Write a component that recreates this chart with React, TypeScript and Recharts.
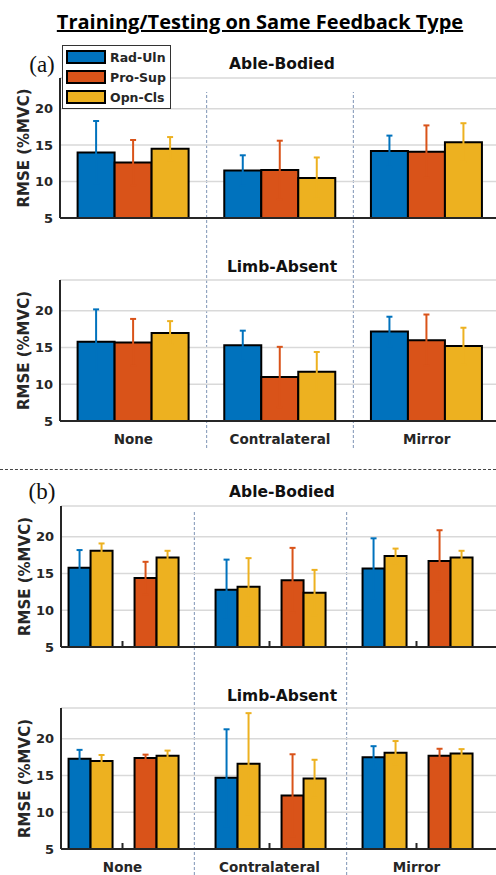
import {
  BarChart,
  Bar,
  XAxis,
  YAxis,
  CartesianGrid,
  ErrorBar,
  Legend,
  ReferenceLine,
} from "recharts";

const categories = ["None", "Contralateral", "Mirror"];
const movements = ["Rad-Uln", "Pro-Sup", "Opn-Cls"];
const movementColors = ["#0072BD", "#D95319", "#EDB120"];
const rmseTicks = [5, 10, 15, 20];

// (a) RMSE mean and SD per feedback type
const aAbleRadUln = [14.0, 11.5, 14.2];
const aAbleRadUlnSd = [4.3, 2.1, 2.1];
const aAbleProSup = [12.6, 11.6, 14.1];
const aAbleProSupSd = [3.1, 4.0, 3.6];
const aAbleOpnCls = [14.5, 10.5, 15.4];
const aAbleOpnClsSd = [1.6, 2.8, 2.6];

const aAbsentRadUln = [15.8, 15.3, 17.2];
const aAbsentRadUlnSd = [4.4, 2.0, 2.0];
const aAbsentProSup = [15.7, 11.0, 16.0];
const aAbsentProSupSd = [3.2, 4.1, 3.5];
const aAbsentOpnCls = [17.0, 11.7, 15.2];
const aAbsentOpnClsSd = [1.6, 2.7, 2.5];

// (b) Rad-Uln paired with Opn-Cls, Pro-Sup paired with Opn-Cls
const bAbleRadUln = [15.8, 12.8, 15.7];
const bAbleRadUlnSd = [2.4, 4.1, 4.1];
const bAbleOpnWithRad = [18.1, 13.2, 17.4];
const bAbleOpnWithRadSd = [1.0, 3.9, 1.0];
const bAbleProSup = [14.4, 14.1, 16.7];
const bAbleProSupSd = [2.2, 4.4, 4.2];
const bAbleOpnWithPro = [17.2, 12.4, 17.2];
const bAbleOpnWithProSd = [0.9, 3.1, 0.9];

const bAbsentRadUln = [17.3, 14.7, 17.5];
const bAbsentRadUlnSd = [1.2, 6.6, 1.5];
const bAbsentOpnWithRad = [17.0, 16.6, 18.1];
const bAbsentOpnWithRadSd = [0.8, 6.9, 1.6];
const bAbsentProSup = [17.4, 12.3, 17.7];
const bAbsentProSupSd = [0.45, 5.6, 0.95];
const bAbsentOpnWithPro = [17.7, 14.6, 18.0];
const bAbsentOpnWithProSd = [0.7, 2.55, 0.6];

const FONT = "'DejaVu Sans', sans-serif";
const INK = "#262626";

const tripleRows = (rad, radSd, pro, proSd, opn, opnSd) =>
  categories.map((name, i) => ({
    name,
    rad: rad[i],
    radSd: radSd[i],
    pro: pro[i],
    proSd: proSd[i],
    opn: opn[i],
    opnSd: opnSd[i],
  }));

const pairRows = (rad, radSd, opnR, opnRSd, pro, proSd, opnP, opnPSd) =>
  categories.map((name, i) => ({
    name,
    rad: rad[i],
    radSd: radSd[i],
    opnR: opnR[i],
    opnRSd: opnRSd[i],
    gap: null,
    pro: pro[i],
    proSd: proSd[i],
    opnP: opnP[i],
    opnPSd: opnPSd[i],
  }));

const tripleSeries = [
  { key: "rad", sd: "radSd", name: movements[0], color: movementColors[0] },
  { key: "pro", sd: "proSd", name: movements[1], color: movementColors[1] },
  { key: "opn", sd: "opnSd", name: movements[2], color: movementColors[2] },
];

// empty slot between the two pairs of each group
const pairSeries = [
  { key: "rad", sd: "radSd", name: movements[0], color: movementColors[0] },
  { key: "opnR", sd: "opnRSd", name: movements[2], color: movementColors[2] },
  { key: "gap", sd: null, name: "", color: "none" },
  { key: "pro", sd: "proSd", name: movements[1], color: movementColors[1] },
  { key: "opnP", sd: "opnPSd", name: movements[2], color: movementColors[2] },
];

const colorOf = Object.fromEntries(movements.map((m, i) => [m, movementColors[i]]));

const CategoryTick = (props: any) => {
  const { x, y, payload, showLabel, inward } = props;
  return (
    <g>
      {inward && (
        <line x1={x} x2={x} y1={y} y2={y - 6} stroke={INK} strokeWidth={2} />
      )}
      {showLabel && (
        <text
          x={x}
          y={y + 23}
          textAnchor="middle"
          fill={INK}
          fontFamily={FONT}
          fontWeight={700}
          fontSize={13.5}
        >
          {payload.value}
        </text>
      )}
    </g>
  );
};

const YTitle = (props: any) => {
  const { viewBox } = props;
  const cx = viewBox.x + 24;
  const cy = viewBox.y + viewBox.height / 2;
  return (
    <text
      x={cx}
      y={cy}
      transform={`rotate(-90, ${cx}, ${cy})`}
      textAnchor="middle"
      dominantBaseline="central"
      fill={INK}
      fontFamily={FONT}
      fontWeight={700}
      fontSize={15}
    >
      RMSE (%MVC)
    </text>
  );
};

const BoxLegend = ({ payload }: any) => {
  const items = [...(payload || [])].sort(
    (a: any, b: any) => movements.indexOf(a.value) - movements.indexOf(b.value)
  );
  return (
    <div
      style={{
        border: "1.5px solid #333",
        background: "#fff",
        padding: "1px 3px 1px 3px",
        boxSizing: "border-box",
        width: 109,
      }}
    >
      {items.map((p: any) => (
        <div key={p.value} style={{ display: "flex", alignItems: "center", height: 20 }}>
          <span
            style={{
              display: "inline-block",
              boxSizing: "border-box",
              width: 40,
              height: 14,
              border: "2px solid #000",
              background: colorOf[p.value],
              marginRight: 4,
            }}
          />
          <span style={{ fontFamily: FONT, fontWeight: 700, fontSize: 12.5, color: INK }}>
            {p.value}
          </span>
        </div>
      ))}
    </div>
  );
};

type PanelProps = {
  top: number;
  height: number;
  marginTop: number;
  xAxisHeight: number;
  left: number;
  padding: { left: number; right: number };
  gap: string;
  data: any[];
  series: typeof tripleSeries;
  showLabels?: boolean;
  inward?: boolean;
  legend?: boolean;
};

const Panel = (p: PanelProps) => (
  <div style={{ position: "absolute", left: 0, top: p.top }}>
    <BarChart
      width={500}
      height={p.height}
      data={p.data}
      margin={{ top: p.marginTop, right: 0, bottom: 0, left: p.left }}
      barCategoryGap={p.gap}
      barGap={0}
    >
      <CartesianGrid vertical={false} stroke="#d9d9d9" strokeWidth={1.5} />
      <XAxis
        dataKey="name"
        height={p.xAxisHeight}
        padding={p.padding}
        interval={0}
        axisLine={{ stroke: INK, strokeWidth: 2 }}
        tickLine={false}
        tickSize={0}
        tickMargin={0}
        tick={<CategoryTick showLabel={p.showLabels} inward={p.inward} />}
      />
      <YAxis
        domain={[5, 24.2]}
        ticks={rmseTicks}
        allowDataOverflow
        width={60}
        axisLine={{ stroke: INK, strokeWidth: 2 }}
        tickLine={false}
        tickSize={0}
        tickMargin={7}
        tick={{ fill: INK, fontFamily: FONT, fontWeight: 700, fontSize: 13 }}
        label={<YTitle />}
      />
      {p.series.map((s) => (
        <Bar
          key={s.key}
          dataKey={s.key}
          name={s.name}
          fill={s.color}
          stroke={s.sd ? "#000" : "none"}
          strokeWidth={2}
          legendType={s.sd ? "rect" : "none"}
          isAnimationActive={false}
        >
          {s.sd && (
            <ErrorBar
              dataKey={s.sd}
              width={3}
              strokeWidth={2}
              stroke={s.color}
              isAnimationActive={false}
            />
          )}
        </Bar>
      ))}
      {p.legend && (
        <Legend
          layout="vertical"
          align="center"
          verticalAlign="middle"
          wrapperStyle={{ left: 62, top: 5, width: 109 }}
          content={(props: any) => <BoxLegend payload={props.payload} />}
        />
      )}
    </BarChart>
  </div>
);

// dashed separators between feedback types, running through both subplots
const Dividers = ({ top, height, left, padding }: any) => (
  <div style={{ position: "absolute", left: 0, top }}>
    <BarChart
      width={500}
      height={height}
      data={categories.map((name) => ({ name, level: 0 }))}
      margin={{ top: 0, right: 0, bottom: 0, left }}
    >
      <XAxis
        dataKey="name"
        height={0}
        padding={padding}
        axisLine={false}
        tickLine={false}
        tick={false}
      />
      <YAxis width={0} domain={[0, 1]} axisLine={false} tickLine={false} tick={false} />
      <Bar dataKey="level" fill="none" isAnimationActive={false} />
      {categories.slice(1).map((c) => (
        <ReferenceLine
          key={c}
          x={c}
          position="start"
          ifOverflow="visible"
          stroke="#7d93b5"
          strokeWidth={1}
          strokeDasharray="3 2"
        />
      ))}
    </BarChart>
  </div>
);

const centered = (x: number, y: number, style: any, text: string) => (
  <div
    style={{
      position: "absolute",
      left: x,
      top: y,
      transform: "translate(-50%, -50%)",
      lineHeight: 1,
      whiteSpace: "nowrap",
      ...style,
    }}
  >
    {text}
  </div>
);

const subTitle = { fontFamily: FONT, fontWeight: 700, fontSize: 15.5, color: "#111" };
const panelTag = { fontFamily: "'Liberation Serif', serif", fontSize: 23, color: "#111" };

export default function App() {
  const padA = { left: 0, right: 0 };
  const padB = { left: -12, right: 10 };
  return (
    <div
      style={{
        position: "fixed",
        left: 0,
        top: 0,
        width: 496,
        height: 875,
        overflow: "hidden",
        background: "#fff",
      }}
    >
      <Dividers top={92} height={356} left={60} padding={padA} />
      <Dividers top={510} height={365} left={61} padding={{ left: -19, right: 1 }} />

      {centered(
        260,
        22,
        {
          fontFamily: "'Open Sans', sans-serif",
          fontWeight: 700,
          fontSize: 20,
          textDecoration: "underline",
          color: "#000",
        },
        "Training/Testing on Same Feedback Type"
      )}

      <Panel
        top={40}
        height={200}
        marginTop={38}
        xAxisHeight={22}
        left={0}
        padding={padA}
        gap="12%"
        data={tripleRows(aAbleRadUln, aAbleRadUlnSd, aAbleProSup, aAbleProSupSd, aAbleOpnCls, aAbleOpnClsSd)}
        series={tripleSeries}
        legend
      />
      <Panel
        top={240}
        height={215}
        marginTop={40}
        xAxisHeight={34}
        left={0}
        padding={padA}
        gap="12%"
        data={tripleRows(aAbsentRadUln, aAbsentRadUlnSd, aAbsentProSup, aAbsentProSupSd, aAbsentOpnCls, aAbsentOpnClsSd)}
        series={tripleSeries}
        showLabels
      />
      <Panel
        top={470}
        height={199}
        marginTop={36}
        xAxisHeight={22}
        left={1}
        padding={padB}
        gap="13.3%"
        data={pairRows(bAbleRadUln, bAbleRadUlnSd, bAbleOpnWithRad, bAbleOpnWithRadSd, bAbleProSup, bAbleProSupSd, bAbleOpnWithPro, bAbleOpnWithProSd)}
        series={pairSeries}
        inward
      />
      <Panel
        top={670}
        height={205}
        marginTop={38}
        xAxisHeight={26}
        left={1}
        padding={padB}
        gap="13.3%"
        data={pairRows(bAbsentRadUln, bAbsentRadUlnSd, bAbsentOpnWithRad, bAbsentOpnWithRadSd, bAbsentProSup, bAbsentProSupSd, bAbsentOpnWithPro, bAbsentOpnWithProSd)}
        series={pairSeries}
        showLabels
        inward
      />

      <div
        style={{
          position: "absolute",
          left: 0,
          top: 469,
          width: 496,
          borderTop: "1px dashed #444",
        }}
      />

      {centered(42, 64, panelTag, "(a)")}
      {centered(42, 491, panelTag, "(b)")}
      {centered(282, 65, subTitle, "Able-Bodied")}
      {centered(282, 268, subTitle, "Limb-Absent")}
      {centered(282, 493, subTitle, "Able-Bodied")}
      {centered(282, 697, subTitle, "Limb-Absent")}
    </div>
  );
}
